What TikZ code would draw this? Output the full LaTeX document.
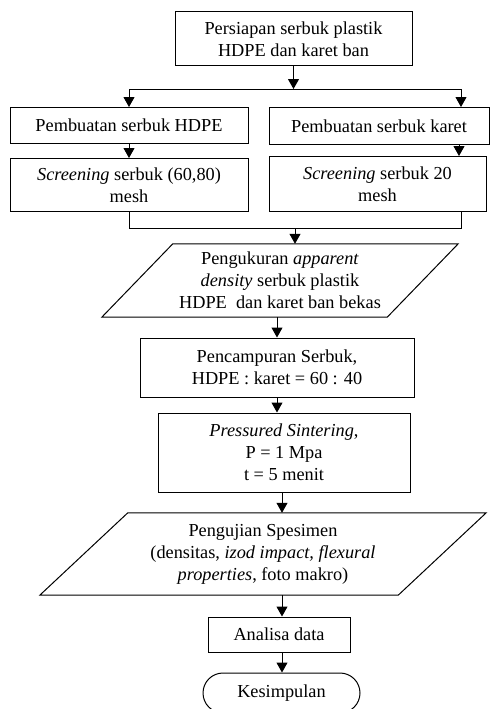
\documentclass[tikz,border=0pt]{standalone}
\usepackage{fontspec}
\setmainfont{Liberation Serif}
\usetikzlibrary{arrows.meta,shapes.misc}
\begin{document}
\begin{tikzpicture}[x=1pt,y=-1pt,
  box/.style={draw,line width=1pt,inner sep=0pt,align=center,font=\fontsize{18.3}{22}\selectfont},
  para/.style={inner sep=0pt,align=center,font=\fontsize{18.3}{22}\selectfont},
  term/.style={draw,line width=1pt,rounded rectangle,inner sep=0pt,align=center,font=\fontsize{18.3}{22}\selectfont},
  arr/.style={line width=1pt,-{Triangle[length=10pt,width=11pt]}},
  ln/.style={line width=1pt}]
\useasboundingbox (0,0) rectangle (490,709);
\fill[white] (0,0) rectangle (490,709);

% nodes
\node[box,minimum width=237pt,minimum height=54pt] (t) at (293.5,39) {Persiapan serbuk plastik\\HDPE dan karet ban};
\node[box,minimum width=238pt,minimum height=36pt] (l1) at (129,125.5) {Pembuatan serbuk HDPE};
\node[box,minimum width=220pt,minimum height=37pt] (r1) at (379,126) {Pembuatan serbuk karet};
\node[box,minimum width=238pt,minimum height=53pt] (l2) at (129,185) {\textit{Screening} serbuk (60,80)\\mesh};
\node[box,minimum width=217pt,minimum height=55pt] (r2) at (377.5,184) {\textit{Screening} serbuk 20\\mesh};

\node[para,minimum width=285pt,minimum height=73pt] (p1) at (280,280.5) {Pengukuran \textit{apparent}\\\textit{density} serbuk plastik\\HDPE\ \ dan karet ban bekas};
\draw[ln] ([xshift=35.5pt]p1.north west) -- ([xshift=35.5pt]p1.north east) -- ([xshift=-35.5pt]p1.south east) -- ([xshift=-35.5pt]p1.south west) -- cycle;

\node[box,minimum width=274pt,minimum height=59pt] (b3) at (277,367.5) {Pencampuran Serbuk,\\HDPE : karet = 60 : 40};
\node[box,minimum width=252pt,minimum height=79pt] (b4) at (284,452.5) {\textit{Pressured Sintering},\\P = 1 Mpa\\t = 5 menit};

\node[para,minimum width=358pt,minimum height=82pt] (p2) at (263,554) {Pengujian Spesimen\\(densitas, \textit{izod impact, flexural}\\\textit{properties}, foto makro)};
\draw[ln] ([xshift=44pt]p2.north west) -- ([xshift=44pt]p2.north east) -- ([xshift=-44pt]p2.south east) -- ([xshift=-44pt]p2.south west) -- cycle;

\node[box,minimum width=142pt,minimum height=35pt] (b5) at (279,634.5) {Analisa data};
\node[term,minimum width=157pt,minimum height=40pt] (k) at (281.5,693) {Kesimpulan};

% connectors
\coordinate (jl) at (129,89);
\coordinate (jr) at (461,89);
\coordinate (jt) at (293.5,89);
\draw[arr] (t.south) -- (jt);
\draw[ln] (jl) -- (jr);
\draw[arr] (jl) -- (jl |- l1.north);
\draw[arr] (jr) -- (jr |- r1.north);
\draw[arr] (l1.south) -- (l2.north);
\coordinate (rr) at (459,0);
\draw[arr] (rr |- r1.south) -- (rr |- r2.north);
\coordinate (ml) at (129,228);
\coordinate (mr) at (461,228);
\coordinate (mm) at (295,228);
\draw[ln] (l2.south) -- (ml) -- (mr) -- (mr |- r2.south);
\draw[arr] (mm) -- (mm |- p1.north);
\draw[arr] (p1.south -| b3.north) -- (b3.north);
\draw[arr] (b3.south) -- (b3.south |- b4.north);
\draw[arr] (b4.south -| 282,0) -- (p2.north -| 282,0);
\draw[arr] (p2.south -| 282,0) -- (b5.north -| 282,0);
\draw[arr] (b5.south -| 282,0) -- (k.north -| 282,0);
\end{tikzpicture}
\end{document}
